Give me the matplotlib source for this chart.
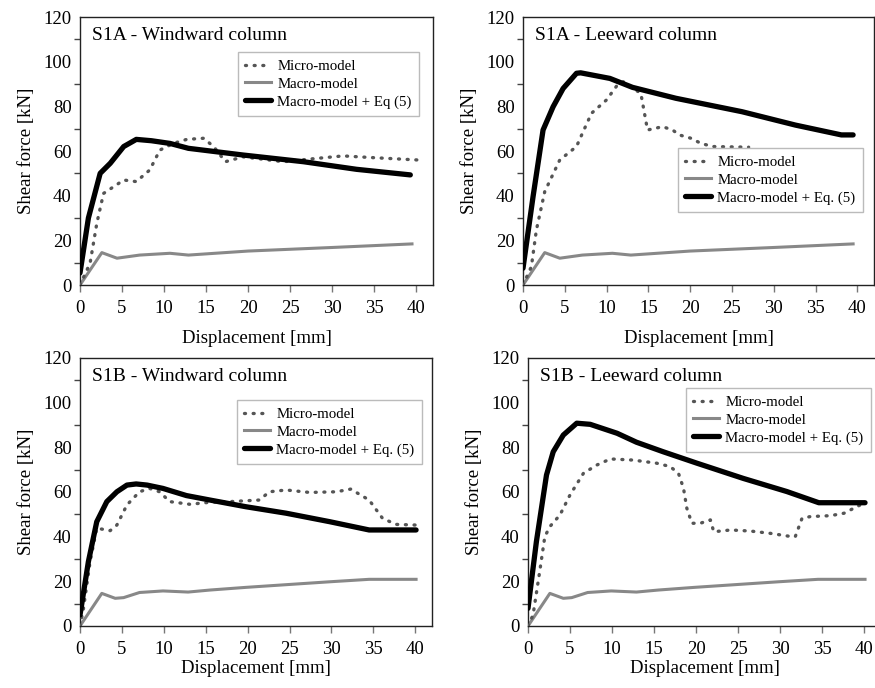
import matplotlib
matplotlib.use("Agg")
import matplotlib.pyplot as plt

plt.rcParams["font.family"] = ["Liberation Serif", "DejaVu Serif"]

# S1A - windward column
s1a_w_micro_x = [0, 1.2, 2.0, 2.8, 5.2, 6.7, 8.3, 9.5, 11.1, 12.7, 14.7, 15.9, 17.3, 19.4,
                 24.2, 28.2, 31.3, 34.5, 40.1]
s1a_w_micro_y = [0, 9.8, 27.6, 41, 47, 46.3, 51.5, 60.4, 63.4, 65.2, 65.7, 62, 55.2, 57.4,
                 55.2, 56.7, 57.8, 57.1, 56]
s1a_w_eq_x = [0, 1.0, 2.4, 3.6, 5.2, 6.7, 8.5, 10.7, 12.9, 19.4, 26.6, 32.9, 39.3]
s1a_w_eq_y = [5.4, 30, 50, 54.5, 62, 65.2, 64.6, 63.4, 61.2, 58.2, 55.2, 51.8, 49.3]

# S1A - leeward column
s1a_l_micro_x = [0, 1.0, 1.6, 2.6, 4.4, 6.4, 7.2, 8.2, 10.0, 11.3, 12.0, 14.1, 14.9, 16.7,
                 17.9, 18.7, 20.1, 21.3, 22.7, 27.0]
s1a_l_micro_y = [0, 8.2, 24.6, 41.8, 56, 62, 68.7, 76.9, 82.9, 89.6, 91, 85.8, 69.4, 70.9,
                 69.4, 67.2, 65.7, 63.4, 62, 61.7]
s1a_l_eq_x = [0, 1.2, 2.4, 3.6, 4.8, 6.4, 6.9, 10.4, 13.1, 18.3, 26.2, 32.6, 38.1, 39.5]
s1a_l_eq_y = [7.5, 39.5, 69.4, 79.8, 88, 94.8, 95, 92.5, 88.5, 83.6, 77.6, 71.6, 67.2, 67.2]

# macro-model, S1A (same for both columns)
s1a_macro_x = [0, 2.6, 4.4, 7.1, 10.7, 12.9, 20, 30, 39.5]
s1a_macro_y = [0, 14.5, 12.0, 13.4, 14.2, 13.4, 15.2, 16.8, 18.4]

# S1B - windward column
s1b_w_micro_x = [0, 0.4, 1.2, 2.0, 3.6, 4.4, 5.6, 7.1, 8.3, 9.5, 10.7, 13.1, 15.5, 17.9,
                 21.4, 22.6, 24.6, 27.4, 30.6, 32.3, 34.5, 36.1, 37.7, 40.1]
s1b_w_micro_y = [0, 7.5, 28.8, 43.8, 42.7, 45.2, 54.2, 60.1, 61.6, 60.1, 55.7, 54.5, 55.4,
                 55.7, 56.4, 60.1, 60.9, 59.8, 60.1, 61.3, 56.4, 48.2, 45.5, 45.2]
s1b_w_eq_x = [0, 1.0, 2.0, 3.2, 4.4, 5.6, 6.7, 8.0, 9.9, 12.7, 15.5, 19.8, 24.6, 29.8,
              34.5, 40.1]
s1b_w_eq_y = [4.9, 28.8, 46.7, 55.7, 60.1, 63.1, 63.6, 63.1, 61.6, 58.4, 56.4, 53.4, 50.5,
              46.7, 43, 43]

# S1B - leeward column
s1b_l_micro_x = [0, 0.6, 1.4, 2.0, 2.6, 3.8, 5.0, 6.6, 8.2, 9.8, 12.5, 15.3, 16.9, 17.9,
                 18.5, 18.9, 19.5, 20.5, 21.7, 22.1, 24.1, 26.5, 28.8, 31.4, 31.8, 32.6,
                 33.6, 36.0, 37.6, 39.9]
s1b_l_micro_y = [0, 4.9, 24.6, 40, 44.5, 49.7, 58.7, 68.4, 72.1, 74.8, 74.3, 72.9, 71.4,
                 68.4, 61.7, 52.7, 46, 46, 47.5, 42.2, 43, 42.5, 41.5, 40, 40, 48.2, 49,
                 49.4, 50.5, 54.9]
s1b_l_eq_x = [0, 1.0, 2.2, 3.0, 4.2, 5.8, 7.4, 10.6, 12.9, 16.1, 20.1, 25.6, 30.8, 34.6,
              40.1]
s1b_l_eq_y = [7.9, 37.8, 67.6, 78, 85.5, 90.8, 90.3, 86.3, 82.3, 78, 72.9, 66.1, 60.2,
              55.2, 55.2]

# macro-model, S1B
s1b_macro_x = [0, 2.6, 4.2, 5.2, 7.1, 9.9, 12.9, 15.5, 19.8, 29.8, 34.5, 40.1]
s1b_macro_y = [0, 14.6, 12.4, 12.7, 15, 15.7, 15.2, 16.1, 17.3, 19.8, 20.9, 20.9]

panels = [
    ("S1A - Windward column", s1a_w_micro_x, s1a_w_micro_y, s1a_macro_x, s1a_macro_y,
     s1a_w_eq_x, s1a_w_eq_y, "Macro-model + Eq (5)"),
    ("S1A - Leeward column", s1a_l_micro_x, s1a_l_micro_y, s1a_macro_x, s1a_macro_y,
     s1a_l_eq_x, s1a_l_eq_y, "Macro-model + Eq. (5)"),
    ("S1B - Windward column", s1b_w_micro_x, s1b_w_micro_y, s1b_macro_x, s1b_macro_y,
     s1b_w_eq_x, s1b_w_eq_y, "Macro-model + Eq. (5)"),
    ("S1B - Leeward column", s1b_l_micro_x, s1b_l_micro_y, s1b_macro_x, s1b_macro_y,
     s1b_l_eq_x, s1b_l_eq_y, "Macro-model + Eq. (5)"),
]

W, H = 875, 688
# axes boxes in pixels: left, top, right, bottom
boxes = [(80, 17, 433, 285), (523, 17, 874, 285), (80, 358, 432, 626), (528, 358, 881, 626)]
# legend upper-left corners in pixels
legend_pos = [(238, 52), (678, 148), (237, 400), (686, 388)]
xlabel_pads = [9, 9, 1, 1]

fig = plt.figure(figsize=(W / 100, H / 100), dpi=100)

for i, (title, mx, my, ax_x, ax_y, ex, ey, eq_label) in enumerate(panels):
    l, t, r, b = boxes[i]
    ax = fig.add_axes([l / W, 1 - b / H, (r - l) / W, (b - t) / H])

    ax.plot(mx, my, color="#555555", lw=2.4, linestyle=(0, (0.3, 2.3)),
            dash_capstyle="round", label="Micro-model", zorder=3)
    ax.plot(ax_x, ax_y, color="#888888", lw=2.2, label="Macro-model", zorder=2)
    ax.plot(ex, ey, color="black", lw=3.8, solid_capstyle="round",
            label=eq_label, zorder=4)

    ax.set_xlim(0, 42)
    ax.set_ylim(0, 120)
    ax.set_xticks(range(0, 41, 5))
    ax.set_yticks(range(0, 121, 20))
    ax.set_yticks(range(10, 120, 20), minor=True)
    ax.tick_params(axis="x", direction="out", length=5, width=1, color="#777777",
                   labelsize=13.5, pad=6)
    ax.tick_params(axis="y", which="major", length=0, labelsize=13.5, pad=6)
    ax.tick_params(axis="y", which="minor", direction="out", length=4, width=1,
                   color="#444444")
    for s in ax.spines.values():
        s.set_linewidth(1.0)
        s.set_color("#222222")

    ax.set_xlabel("Displacement [mm]", fontsize=13.5, labelpad=xlabel_pads[i])
    ax.set_ylabel("Shear force [kN]", fontsize=13.5, labelpad=6)
    ax.text(0.035, 0.93, title, transform=ax.transAxes, fontsize=14, va="center",
            ha="left")

    lx, ly = legend_pos[i]
    leg = ax.legend(loc="upper left", bbox_to_anchor=(lx / W, 1 - ly / H),
                    bbox_transform=fig.transFigure, fontsize=10.7, frameon=True,
                    fancybox=False, edgecolor="#bbbbbb", framealpha=1,
                    handlelength=1.75, handletextpad=0.4, borderpad=0.5,
                    labelspacing=0.3, borderaxespad=0)
    leg.get_frame().set_linewidth(1.0)

fig.savefig("out.png", dpi=100, facecolor="white")
